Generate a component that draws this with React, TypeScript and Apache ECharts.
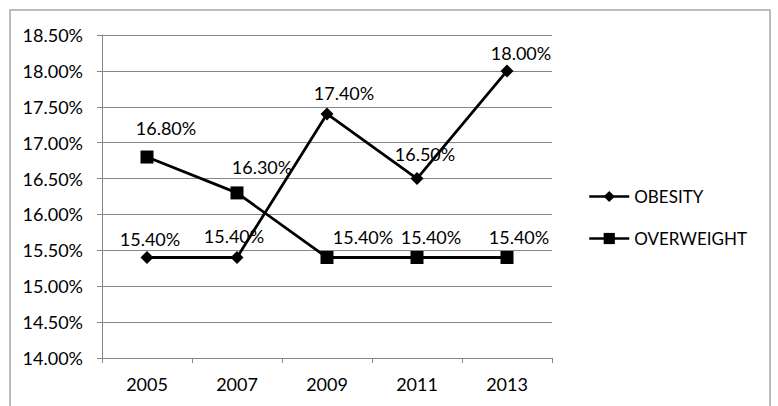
import React, { useEffect, useRef } from "react";
import * as echarts from "echarts";

const years = ["2005", "2007", "2009", "2011", "2013"];
const obesity = [15.4, 15.4, 17.4, 16.5, 18.0];
const overweight = [16.8, 16.3, 15.4, 15.4, 15.4];
// label offsets (dx, dy) relative to each point, as placed in the original
const obesityLabelOffsets = [[3, -19], [-3, -22], [17, -21], [8, -25], [14, -18]];
const overweightLabelOffsets = [[19, -29], [25, -26], [36, -21], [14, -21], [12, -21]];

const FONT = "Lato, 'Open Sans', sans-serif";
const FS = 18;
const fmt = (v: number) => v.toFixed(2) + "%";

export default function App() {
  const ref = useRef<HTMLDivElement>(null);
  useEffect(() => {
    if (!ref.current) return;
    const chart = echarts.init(ref.current, null, { renderer: "svg" });
    const mk = (vals: number[], offs: number[][]) =>
      vals.map((v, i) => ({
        value: v,
        label: { offset: offs[i] },
      }));
    chart.setOption({
      animation: false,
      backgroundColor: "#fff",
      textStyle: { fontFamily: FONT, color: "#000" },
      graphic: [
        {
          type: "rect",
          shape: { x: 10, y: 10, width: 760, height: 420 },
          style: { fill: "none", stroke: "#a6a6a6", lineWidth: 1.5 },
          silent: true,
        },
      ],
      grid: { left: 102, top: 35, width: 450, height: 323, containLabel: false },
      legend: {
        orient: "vertical",
        left: 583,
        top: 183,
        itemWidth: 40,
        itemHeight: 14,
        itemGap: 25,
        lineStyle: { width: 2.5 },
        textStyle: { fontFamily: FONT, fontSize: 17, color: "#000" },
        data: ["OBESITY", "OVERWEIGHT"],
      },
      xAxis: {
        type: "category",
        data: years,
        boundaryGap: true,
        axisLine: { lineStyle: { color: "#868686", width: 1 } },
        axisTick: { show: true, length: 5, lineStyle: { color: "#868686" } },
        axisLabel: { fontFamily: FONT, fontSize: FS, color: "#000", margin: 17 },
        splitLine: { show: false },
      },
      yAxis: {
        type: "value",
        min: 14,
        max: 18.5,
        interval: 0.5,
        axisLine: { show: true, lineStyle: { color: "#868686", width: 1 } },
        axisTick: { show: true, length: 5, lineStyle: { color: "#868686" } },
        axisLabel: {
          fontFamily: FONT,
          fontSize: FS,
          color: "#000",
          margin: 19,
          formatter: (v: number) => fmt(v),
        },
        splitLine: { show: true, lineStyle: { color: "#868686", width: 1 } },
      },
      series: [
        {
          name: "OBESITY",
          type: "line",
          data: mk(obesity, obesityLabelOffsets),
          symbol: "diamond",
          symbolSize: 13,
          lineStyle: { color: "#000", width: 2.8 },
          itemStyle: { color: "#000" },
          label: {
            show: true,
            position: "inside",
            fontFamily: FONT,
            fontSize: FS,
            color: "#000",
            formatter: (p: any) => fmt(p.value),
          },
          z: 3,
        },
        {
          name: "OVERWEIGHT",
          type: "line",
          data: mk(overweight, overweightLabelOffsets),
          symbol: "rect",
          symbolSize: 13,
          lineStyle: { color: "#000", width: 2.8 },
          itemStyle: { color: "#000" },
          label: {
            show: true,
            position: "inside",
            fontFamily: FONT,
            fontSize: FS,
            color: "#000",
            formatter: (p: any) => fmt(p.value),
          },
          z: 2,
        },
      ],
    });
    return () => chart.dispose();
  }, []);
  return <div ref={ref} style={{ width: 778, height: 406, position: "absolute", left: 0, top: 0 }} />;
}
